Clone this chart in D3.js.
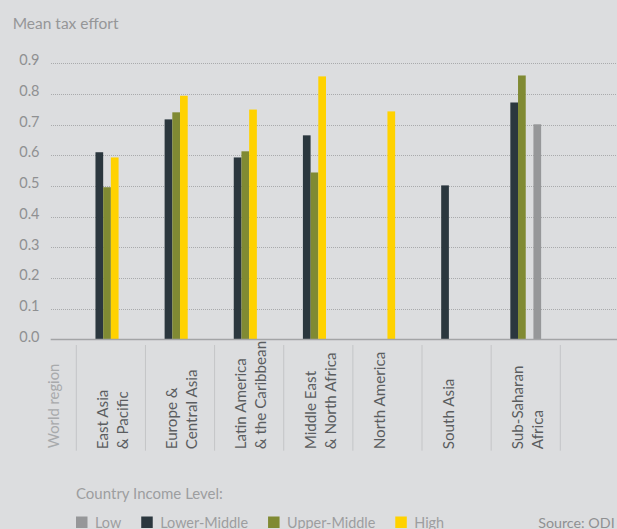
<!DOCTYPE html>
<html>
<head>
<meta charset="utf-8">
<script src="https://cdn.jsdelivr.net/npm/d3@7"></script>
<style>
  html, body { margin: 0; padding: 0; background: #dcdddf; }
  svg { display: block; font-family: Lato, "Open Sans", sans-serif; }
</style>
</head>
<body>
<svg id="chart" width="617" height="529"></svg>
<script>
// ---- data ----
const regions = ["East Asia & Pacific", "Europe & Central Asia", "Latin America & the Caribbean",
  "Middle East & North Africa", "North America", "South Asia", "Sub-Saharan Africa"];
const regionLabelLines = [["East Asia", "& Pacific"], ["Europe &", "Central Asia"],
  ["Latin America", "& the Caribbean"], ["Middle East", "& North Africa"],
  ["North America"], ["South Asia"], ["Sub-Saharan", "Africa"]];
const levels = ["Low", "Lower-Middle", "Upper-Middle", "High"];
const barOrder = ["Lower-Middle", "Upper-Middle", "High", "Low"];
const lowValues         = [null, null, null, null, null, null, 0.701];
const lowerMiddleValues = [0.610, 0.717, 0.593, 0.665, null, 0.502, 0.772];
const upperMiddleValues = [0.496, 0.740, 0.613, 0.544, null, null, 0.860];
const highValues        = [0.593, 0.794, 0.749, 0.857, 0.743, null, null];
const yTicks = [0, 0.1, 0.2, 0.3, 0.4, 0.5, 0.6, 0.7, 0.8, 0.9];
const levelColors = ["#969799", "#2b373e", "#808a33", "#ffd200"];

// ---- build ----
const seriesByLevel = {
  "Low": lowValues, "Lower-Middle": lowerMiddleValues,
  "Upper-Middle": upperMiddleValues, "High": highValues
};
const color = d3.scaleOrdinal().domain(levels).range(levelColors);

const svg = d3.select("#chart");
const W = 617;

const x = d3.scaleBand().domain(regions).range([76.3, 560.3]).paddingInner(0).paddingOuter(0);
const xSub = d3.scaleBand().domain(barOrder).range([0, x.bandwidth()]).paddingInner(0).paddingOuter(2.49);
const y = d3.scaleLinear().domain([0, 0.9]).range([339.5, 63.2]);

// title
svg.append("text").attr("x", 12.7).attr("y", 29.3)
  .attr("font-size", 15.5).attr("fill", "#959698").text("Mean tax effort");

// gridlines
svg.append("g").selectAll("line").data(yTicks.filter(d => d > 0)).join("line")
  .attr("x1", 51).attr("x2", W)
  .attr("y1", d => Math.round(y(d)) + 0.5).attr("y2", d => Math.round(y(d)) + 0.5)
  .attr("stroke", "#a9aaac").attr("stroke-width", 1).attr("stroke-dasharray", "1,1");

// tick labels
const yAxis = d3.axisLeft(y).tickValues(yTicks).tickFormat(d3.format(".1f")).tickSize(0).tickPadding(0);
const yg = svg.append("g").attr("transform", "translate(39.5,1.6)").call(yAxis);
yg.select(".domain").remove();
yg.selectAll("text").attr("font-size", 14.5).attr("fill", "#8f9092")
  .attr("font-family", "Lato, 'Open Sans', sans-serif").attr("dy", 0);

// bars
const rows = [];
regions.forEach((r, i) => {
  barOrder.forEach(l => {
    const v = seriesByLevel[l][i];
    if (v != null) rows.push({ region: r, level: l, value: v });
  });
});
svg.append("g").selectAll("rect").data(rows).join("rect")
  .attr("x", d => x(d.region) + xSub(d.level))
  .attr("width", xSub.bandwidth())
  .attr("y", d => y(d.value))
  .attr("height", d => y(0) - y(d.value))
  .attr("fill", d => color(d.level));

// baseline
svg.append("line").attr("x1", 50.7).attr("x2", W)
  .attr("y1", y(0)).attr("y2", y(0))
  .attr("stroke", "#a3a4a6").attr("stroke-width", 1.5);

// category separators
const seps = regions.map(r => x(r)).concat([x(regions[regions.length - 1]) + x.bandwidth()]);
svg.append("g").selectAll("line").data(seps).join("line")
  .attr("x1", d => d).attr("x2", d => d)
  .attr("y1", 345).attr("y2", 450.7)
  .attr("stroke", "#c4c5c7").attr("stroke-width", 1);

// "World region"
svg.append("text")
  .attr("transform", "translate(58.5,448.3) rotate(-90)")
  .attr("text-anchor", "start").attr("font-size", 14.8).attr("fill", "#a8aaac")
  .text("World region");

// category labels
const lab = svg.append("g").selectAll("text").data(regions).join("text")
  .attr("transform", d => `translate(${x(d) + x.bandwidth() / 2 - 2.7},449.3) rotate(-90)`)
  .attr("text-anchor", "start").attr("font-size", 15.2).attr("fill", "#5b5d5f");
lab.each(function (d, i) {
  const t = d3.select(this);
  regionLabelLines[i].forEach((line, j) => {
    t.append("tspan").attr("x", 0).attr("y", j * 20).text(line);
  });
});

// legend
svg.append("text").attr("x", 76).attr("y", 499.3)
  .attr("font-size", 15).attr("fill", "#9d9ea0").text("Country Income Level:");
let lx = 76;
levels.forEach(l => {
  svg.append("rect").attr("x", lx).attr("y", 516.5).attr("width", 11.5).attr("height", 11.5)
    .attr("fill", color(l));
  const t = svg.append("text").attr("x", lx + 19).attr("y", 527.5)
    .attr("font-size", 14.4).attr("fill", "#9d9ea0").text(l);
  lx = lx + 19 + t.node().getComputedTextLength() + 20;
});

svg.append("text").attr("x", 614.7).attr("y", 527.5).attr("text-anchor", "end")
  .attr("font-size", 14.3).attr("fill", "#8f9092").text("Source: ODI");
</script>
</body>
</html>
